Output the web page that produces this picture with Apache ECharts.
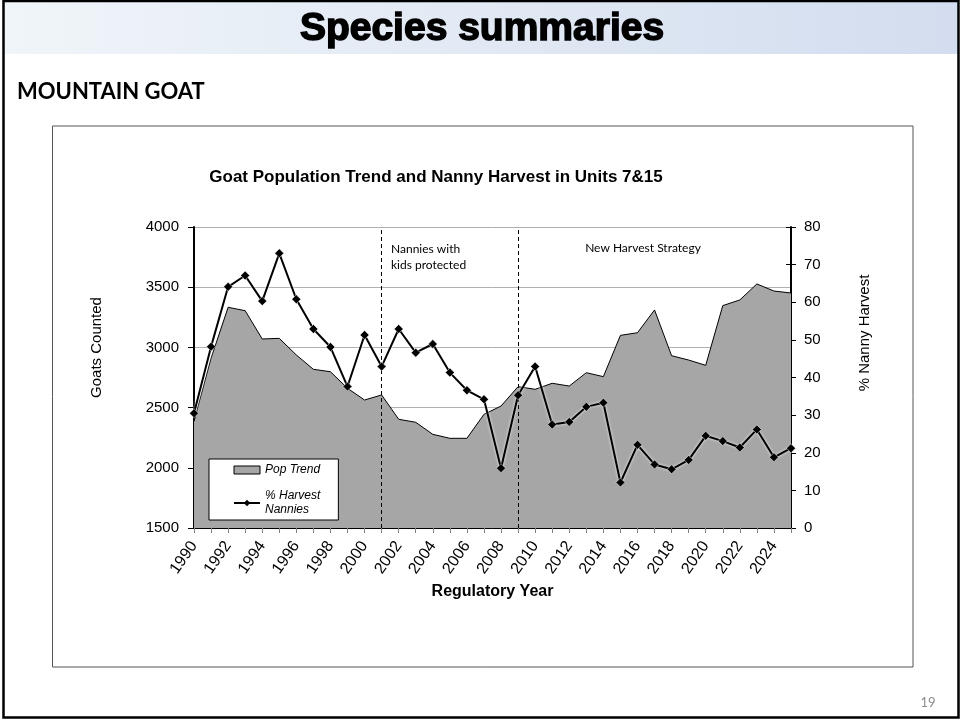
<!DOCTYPE html>
<html>
<head>
<meta charset="utf-8">
<script src="https://cdn.jsdelivr.net/npm/echarts@6/dist/echarts.min.js"></script>
<style>
html,body{margin:0;padding:0;background:#fff;}
#c{width:961px;height:721px;}
</style>
</head>
<body>
<div id="c"></div>
<script>
var years = ['1990','1991','1992','1993','1994','1995','1996','1997','1998','1999','2000','2001','2002','2003','2004','2005','2006','2007','2008','2009','2010','2011','2012','2013','2014','2015','2016','2017','2018','2019','2020','2021','2022','2023','2024','2025'];
var popTrend = [2385,2910,3333,3305,3070,3075,2937,2818,2798,2660,2563,2605,2403,2378,2278,2245,2245,2444,2513,2674,2652,2702,2679,2790,2757,3100,3122,3311,2931,2895,2851,3347,3394,3527,3468,3452];
var harvestNannies = [30.5,48.2,64.1,67.1,60.3,73.0,60.8,52.9,48.1,37.6,51.3,42.9,52.9,46.6,48.9,41.3,36.6,34.2,15.9,35.3,42.9,27.5,28.2,32.2,33.3,12.1,22.1,16.9,15.6,18.1,24.5,23.1,21.4,26.2,18.8,21.2];
var strategyYears = ['2001','2009'];
var leftTicks = {min:1500, max:4000, interval:500};
var rightTicks = {min:0, max:80, interval:10};

var AR = "'Liberation Sans', Arial, sans-serif";

var chart = echarts.init(document.getElementById('c'), null, {renderer:'canvas'});
chart.setOption({
  animation:false,
  backgroundColor:'#fff',
  title:{
    text:'Goat Population Trend and Nanny Harvest in Units 7&15',
    left:431, top:164, textAlign:'center',
    textStyle:{fontFamily:AR, fontSize:17, fontWeight:'bold', color:'#000'}
  },
  grid:{left:194, right:170, top:227, bottom:193, containLabel:false},
  legend:{
    left:209, top:459, orient:'vertical',
    backgroundColor:'#fff', borderColor:'#000', borderWidth:1, borderRadius:0,
    padding:[4,18,3,24], itemGap:12, itemWidth:26, itemHeight:8,
    textStyle:{fontFamily:AR, fontSize:12, fontStyle:'italic', color:'#000', lineHeight:14},
    data:[
      {name:'Pop Trend', icon:'rect', itemStyle:{color:'#a6a6a6', borderColor:'#000', borderWidth:1}},
      {name:'% Harvest Nannies', itemStyle:{color:'#000', borderWidth:0}, lineStyle:{color:'#000', width:2, shadowBlur:0}}
    ],
    formatter:function(n){ return n === '% Harvest Nannies' ? '% Harvest\nNannies' : n; }
  },
  xAxis:[{
    type:'category', data:years, boundaryGap:false, position:'bottom',
    axisLine:{lineStyle:{color:'#808080', width:1}},
    axisTick:{show:true, interval:0, length:5, lineStyle:{color:'#808080'}},
    axisLabel:{interval:1, rotate:55, margin:15, fontFamily:AR, fontSize:16, color:'#000'},
    name:'Regulatory Year', nameLocation:'middle', nameGap:56,
    nameTextStyle:{fontFamily:AR, fontSize:16, fontWeight:'bold', color:'#000'},
    splitLine:{show:false}
  },{
    type:'category', data:years, boundaryGap:false, position:'top',
    axisLine:{lineStyle:{color:'#000', width:1}},
    axisTick:{show:false}, axisLabel:{show:false}, splitLine:{show:false}
  }],
  yAxis:[{
    type:'value', position:'left', min:leftTicks.min, max:leftTicks.max, interval:leftTicks.interval,
    axisLine:{show:true, lineStyle:{color:'#000', width:2}},
    axisTick:{show:true, length:6, lineStyle:{color:'#000'}},
    axisLabel:{margin:15, fontFamily:AR, fontSize:15, color:'#000', formatter:function(v){return String(v);}},
    splitLine:{show:true, lineStyle:{color:'#b0b0b0', width:1}},
    name:'Goats Counted', nameLocation:'middle', nameRotate:90, nameGap:90,
    nameTextStyle:{fontFamily:AR, fontSize:15, color:'#000', padding:[0,0,0,60]}
  },{
    type:'value', position:'right', min:rightTicks.min, max:rightTicks.max, interval:rightTicks.interval,
    axisLine:{show:true, lineStyle:{color:'#000', width:2}},
    axisTick:{show:true, length:5, lineStyle:{color:'#000'}},
    axisLabel:{margin:13, fontFamily:AR, fontSize:15, color:'#000'},
    splitLine:{show:false},
    name:'% Nanny Harvest', nameLocation:'middle', nameRotate:90, nameGap:66,
    nameTextStyle:{fontFamily:AR, fontSize:15, color:'#000', padding:[0,0,0,89]}
  },{
    type:'value', position:'right', min:rightTicks.min, max:rightTicks.max, interval:rightTicks.interval,
    axisLine:{show:false},
    axisTick:{show:true, inside:true, length:5, lineStyle:{color:'#000'}},
    axisLabel:{show:false}, splitLine:{show:false}
  }],
  series:[{
    name:'Pop Trend', type:'line', xAxisIndex:0, yAxisIndex:0, data:popTrend,
    showSymbol:false, symbol:'none', z:1,
    lineStyle:{color:'#000', width:1},
    itemStyle:{color:'#a6a6a6'},
    areaStyle:{color:'#a6a6a6', opacity:1}
  },{
    name:'% Harvest Nannies', type:'line', xAxisIndex:0, yAxisIndex:1, data:harvestNannies,
    symbol:'diamond', symbolSize:9, z:5,
    lineStyle:{color:'#000', width:2, shadowColor:'rgba(255,255,255,0.9)', shadowBlur:3},
    itemStyle:{color:'#000', borderColor:'#fff', borderWidth:0.5},
    markLine:{
      silent:true, symbol:['none','none'],
      label:{show:false},
      lineStyle:{type:[4,3], color:'#000', width:1},
      data:strategyYears.map(function(y){ return {xAxis:y}; })
    }
  }],
  graphic:[
    {type:'rect', z:-10, shape:{x:4, y:1, width:954, height:53},
     style:{fill:new echarts.graphic.LinearGradient(0,0,1,0,[{offset:0,color:'#f0f5f9'},{offset:1,color:'#d3ddef'}])}},
    {type:'rect', z:100, shape:{x:3.5, y:1, width:955, height:716.5},
     style:{fill:'none', stroke:'#000', lineWidth:2.5}},
    {type:'text', z:101, x:482, y:29,
     style:{text:'Species summaries', font:"900 39px 'Liberation Sans', Arial, sans-serif",
       fill:'#000', stroke:'#000', lineWidth:1.5, align:'center', verticalAlign:'middle',
       shadowColor:'rgba(0,0,0,0.4)', shadowBlur:2, shadowOffsetX:1, shadowOffsetY:1}},
    {type:'text', x:17, y:92,
     style:{text:'MOUNTAIN GOAT', font:"bold 22px Lato, 'Open Sans', sans-serif", fill:'#000', align:'left', verticalAlign:'middle'}},
    {type:'rect', z:-5, shape:{x:52.5, y:126, width:860.5, height:541},
     style:{fill:'none', stroke:'#555', lineWidth:1}},
    {type:'text', x:391, y:241,
     style:{text:'Nannies with\nkids protected', font:"12px Lato, 'Open Sans', sans-serif", fill:'#000', lineHeight:16, align:'left', verticalAlign:'top'}},
    {type:'text', x:643, y:248,
     style:{text:'New Harvest Strategy', font:"12px Lato, 'Open Sans', sans-serif", fill:'#000', align:'center', verticalAlign:'middle'}},
    {type:'text', x:928, y:703,
     style:{text:'19', font:"13px Lato, 'Open Sans', sans-serif", fill:'#8c8c8c', align:'center', verticalAlign:'middle'}}
  ]
});
</script>
</body>
</html>
